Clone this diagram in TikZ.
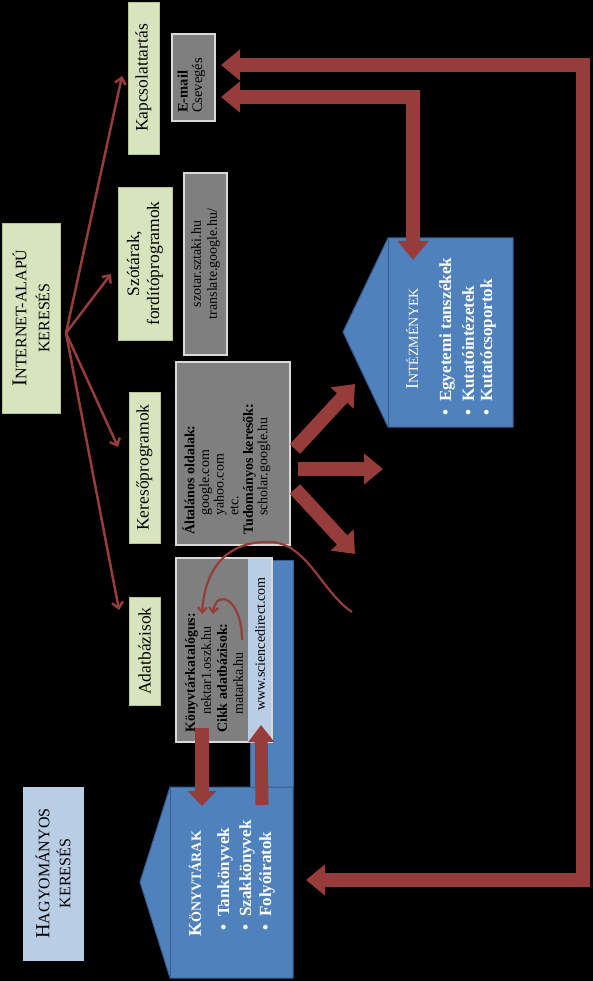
\documentclass[tikz,border=0pt]{standalone}
\usepackage{fontspec}
\setmainfont{Liberation Serif}
\usetikzlibrary{arrows.meta}
\definecolor{grn}{HTML}{D7E4BD}
\definecolor{grnb}{HTML}{B3C78E}
\definecolor{gry}{HTML}{7F7F7F}
\definecolor{gryb}{HTML}{D9D9D9}
\definecolor{blu}{HTML}{4F81BD}
\definecolor{blub}{HTML}{385D8A}
\definecolor{lblu}{HTML}{B9CDE5}
\definecolor{redd}{HTML}{963C3A}
\begin{document}
\begin{tikzpicture}[x=1pt,y=-1pt,
  gbox/.style={draw=grnb, line width=0.8pt, fill=grn, inner sep=0pt, rotate=90, align=center, font=\fontsize{17.5}{20}\selectfont},
  graybox/.style={draw=gryb, line width=1.5pt, fill=gry, inner sep=0pt},
  rtext/.style={rotate=90, anchor=west, align=left, inner sep=0pt},
  whtext/.style={rtext, text=white, font=\fontsize{17}{20}\selectfont\bfseries},
  thinarr/.style={draw=redd, line width=2.5pt, -{Straight Barb[length=6pt,width=11pt]}},
  curvearr/.style={draw=redd, line width=2.2pt, -{Straight Barb[length=5pt,width=9pt]}},
  bigarr/.style={draw=redd, line width=14pt, line join=miter},
  bigtip/.style={-{Triangle[length=19pt,width=30pt]}},
  bigtips/.style={{Triangle[length=19pt,width=30pt]}-{Triangle[length=19pt,width=30pt]}}
]
\fill[black] (0,0) rectangle (593,981);
\useasboundingbox (0,0) rectangle (593,981);

% blue shapes
\draw[blub, fill=blu, line width=1pt] (250,560) rectangle (293,787);
\draw[blub, fill=blu, line width=1pt] (170,787) -- (293,787) -- (293,978) -- (170,978) -- (140,882) -- cycle;
\draw[blub, line width=0.8pt] (170,787) -- (170,978);
\draw[blub, fill=blu, line width=1pt] (388,238) -- (513,238) -- (513,427) -- (388,427) -- (343,332) -- cycle;
\draw[blub, line width=0.8pt] (388,238) -- (388,427);

% left category boxes
\node[gbox, minimum width=190pt, minimum height=58pt, font=\fontsize{16}{23}\selectfont] (inet) at (31,318)
  {{\fontsize{21}{23}\selectfont I}NTERNET-ALAPÚ\\KERESÉS};
\node[gbox, draw=lblu, fill=lblu, minimum width=173pt, minimum height=60pt, font=\fontsize{16}{21}\selectfont] (hagy) at (53,873.5)
  {{\fontsize{20}{21}\selectfont H}AGYOMÁNYOS\\KERESÉS};

\node[gbox, minimum width=152pt, minimum height=31pt] (kap) at (143.5,78) {Kapcsolattartás};
\node[gbox, minimum width=153pt, minimum height=54pt] (szo) at (145,263.5) {Szótárak,\\fordítóprogramok};
\node[gbox, minimum width=151pt, minimum height=31pt] (ker) at (144.5,467.5) {Keresőprogramok};
\node[gbox, minimum width=108pt, minimum height=31pt] (adat) at (144.5,651) {Adatbázisok};

% gray boxes
\node[graybox, minimum width=43pt, minimum height=87pt] (mail) at (193.5,77.5) {};
\node[rtext, font=\fontsize{14.5}{14.5}\selectfont] (mailt) at (191.5,113) {\textbf{E-mail}\\Csevegés};

\node[graybox, rotate=90, minimum width=182pt, minimum height=43pt, align=center, font=\fontsize{14}{16}\selectfont] (szt) at (205.5,264)
  {szotar.sztaki.hu\\translate.google.hu/};

\node[graybox, minimum width=114pt, minimum height=183pt] (kerg) at (233,453.5) {};
\node[rtext, font=\fontsize{14}{14.6}\selectfont] (kergt) at (226.5,535)
  {\textbf{Általános oldalak:}\\\hspace*{19pt}google.com\\\hspace*{19pt}yahoo.com\\\hspace*{19pt}etc.\\\textbf{Tudományos keresők:}\\\hspace*{19pt}scholar.google.hu};

\node[fill=gry, inner sep=0pt, minimum width=96pt, minimum height=184pt] (adg) at (224,650) {};
\fill[lblu] (248,559) rectangle (271.5,741);
\draw[gryb, line width=1.5pt] (adg.north west) rectangle (adg.south east);
\node[rtext, font=\fontsize{14}{16}\selectfont] (adgt) at (214,733)
  {\textbf{Könyvtárkatalógus:}\\\hspace*{18pt}nektar1.oszk.hu\\\textbf{Cikk adatbázisok:}\\\hspace*{18pt}matarka.hu};
\node[rotate=90, inner sep=0pt, font=\fontsize{14}{16}\selectfont] (sd) at (260,644) {www.sciencedirect.com};

% blue shape texts
\node[whtext, font=\mdseries] (intt) at (412,390) {{\fontsize{18}{20}\selectfont I}{\fontsize{14}{16}\selectfont NTÉZMÉNYEK}};
\node[whtext] (int1) at (447,416) {•\hspace*{8pt}Egyetemi tanszékek};
\node[whtext] (int2) at (468,416) {•\hspace*{8pt}Kutatóintézetek};
\node[whtext] (int3) at (488,416) {•\hspace*{8pt}Kutatócsoportok};

\node[whtext] (kont) at (195,937) {{\fontsize{18}{20}\selectfont K}{\fontsize{14}{16}\selectfont ÖNYVTÁRAK}};
\node[whtext] (kon1) at (225,931) {•\hspace*{8pt}Tankönyvek};
\node[whtext] (kon2) at (247,931) {•\hspace*{8pt}Szakkönyvek};
\node[whtext] (kon3) at (267,931) {•\hspace*{8pt}Folyóiratok};

% thin arrows from internet box
\coordinate (src) at (66,333);
\coordinate (tkap) at (122,76);
\coordinate (tszo) at (111,274);
\coordinate (tker) at (118,447);
\coordinate (tadat) at (119,610);
\draw[thinarr] (src) -- (tkap);
\draw[thinarr] (src) -- (tszo);
\draw[thinarr] (src) -- (tker);
\draw[thinarr] (src) -- (tadat);

% big L-shaped arrows
\coordinate (ea) at (221,65);
\coordinate (eb) at (221,97);
\coordinate (ktip) at (306,880);
\coordinate (itip) at (413,260);
\draw[bigarr, bigtips] (ktip) -- (583,880) -- (583,65) -- (ea);
\draw[bigarr, bigtips] (itip) -- (413,97) -- (eb);

% arrows out of search engines
\coordinate (k1) at (295,449);
\coordinate (k2) at (298,469);
\coordinate (k3) at (295,489);
\coordinate (k1t) at (355,384);
\coordinate (k2t) at (383,469);
\coordinate (k3t) at (355,554);
\draw[bigarr, bigtip] (k1) -- (k1t);
\draw[bigarr, bigtip] (k2) -- (k2t);
\draw[bigarr, bigtip] (k3) -- (k3t);

% arrows between databases and libraries
\coordinate (d1) at (202,728);
\coordinate (d1t) at (202,806);
\coordinate (u1) at (262,805);
\coordinate (u1t) at (261,725);
\draw[bigarr, -{Triangle[length=15pt,width=28pt]}] (d1) -- (d1t);
\draw[bigarr, line width=13pt, -{Triangle[length=17pt,width=25pt]}] (u1) -- (u1t);

% curved arrows
\coordinate (c1s) at (352,612);
\coordinate (c1e) at (202,614);
\coordinate (c2s) at (242,640);
\coordinate (c2e) at (213,614);
\draw[curvearr] (c1s) .. controls (322,592) and (308,545) .. (272,542) .. controls (230,540) and (205,565) .. (c1e);
\draw[curvearr] (c2s) .. controls (242,598) and (216,588) .. (c2e);
\end{tikzpicture}
\end{document}
